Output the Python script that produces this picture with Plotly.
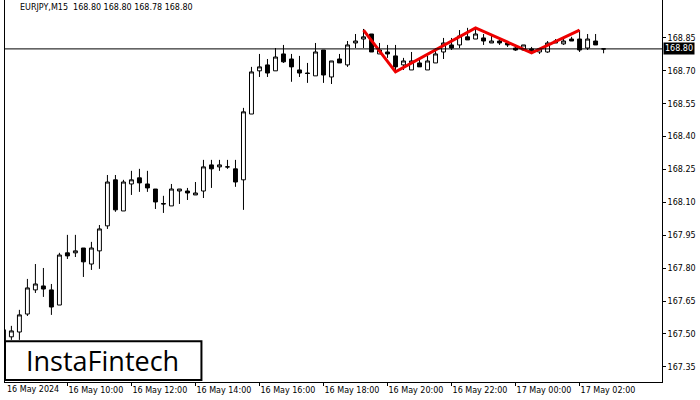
import plotly.graph_objects as go

# EURJPY M15, 16 May 08:00 onwards (one entry per 15-minute bar)
opens = [167.519, 167.487, 167.509, 167.591, 167.701, 167.719, 167.701, 167.632, 167.870, 167.870,
         167.892, 167.819, 167.879, 167.993, 168.203, 168.061, 168.184, 168.212, 168.184, 168.161,
         168.095, 168.084, 168.152, 168.152, 168.134, 168.152, 168.271, 168.262, 168.262, 168.253,
         168.203, 168.503, 168.700, 168.727, 168.700, 168.777, 168.754, 168.704, 168.690, 168.677,
         168.795, 168.672, 168.754, 168.727, 168.827, 168.845, 168.868, 168.777, 168.786, 168.768,
         168.727, 168.704, 168.736, 168.704, 168.736, 168.786, 168.818, 168.818, 168.855, 168.845,
         168.850, 168.827, 168.836, 168.827, 168.804, 168.795, 168.800, 168.786, 168.786, 168.827,
         168.823, 168.845, 168.845, 168.804, 168.836, 168.800]
highs = [167.520, 167.537, 167.610, 167.751, 167.819, 167.801, 167.728, 167.870, 167.952, 167.952,
         167.892, 167.920, 167.997, 168.225, 168.225, 168.203, 168.244, 168.253, 168.244, 168.161,
         168.130, 168.184, 168.161, 168.166, 168.193, 168.294, 168.294, 168.294, 168.294, 168.294,
         168.531, 168.718, 168.777, 168.754, 168.804, 168.818, 168.777, 168.768, 168.736, 168.827,
         168.795, 168.745, 168.777, 168.836, 168.868, 168.891, 168.868, 168.827, 168.818, 168.818,
         168.759, 168.786, 168.754, 168.768, 168.804, 168.850, 168.850, 168.886, 168.896, 168.891,
         168.868, 168.859, 168.850, 168.836, 168.818, 168.818, 168.809, 168.804, 168.836, 168.845,
         168.855, 168.855, 168.886, 168.868, 168.868, 168.800]
lows = [167.450, 167.473, 167.473, 167.582, 167.687, 167.669, 167.587, 167.632, 167.842, 167.851,
        167.760, 167.792, 167.797, 167.979, 168.057, 168.061, 168.134, 168.148, 168.148, 168.070,
        168.052, 168.084, 168.093, 168.111, 168.134, 168.120, 168.166, 168.244, 168.253, 168.171,
        168.066, 168.503, 168.672, 168.672, 168.700, 168.736, 168.650, 168.672, 168.645, 168.677,
        168.645, 168.640, 168.736, 168.718, 168.804, 168.804, 168.786, 168.777, 168.759, 168.695,
        168.704, 168.704, 168.718, 168.704, 168.736, 168.754, 168.795, 168.804, 168.841, 168.845,
        168.818, 168.827, 168.818, 168.809, 168.791, 168.791, 168.777, 168.777, 168.782, 168.827,
        168.818, 168.836, 168.786, 168.795, 168.818, 168.780]
closes = [167.450, 167.514, 167.587, 167.710, 167.728, 167.705, 167.623, 167.860, 167.856, 167.879,
          167.829, 167.892, 167.979, 168.193, 168.066, 168.193, 168.203, 168.189, 168.166, 168.102,
          168.093, 168.161, 168.161, 168.143, 168.143, 168.262, 168.253, 168.271, 168.262, 168.193,
          168.513, 168.695, 168.718, 168.690, 168.763, 168.741, 168.718, 168.690, 168.688, 168.786,
          168.681, 168.745, 168.736, 168.818, 168.836, 168.855, 168.786, 168.795, 168.777, 168.718,
          168.745, 168.745, 168.718, 168.745, 168.777, 168.827, 168.804, 168.859, 168.841, 168.868,
          168.836, 168.836, 168.827, 168.818, 168.795, 168.818, 168.791, 168.800, 168.827, 168.836,
          168.836, 168.836, 168.795, 168.845, 168.818, 168.800]

x_labels = ["16 May 2024", "16 May 10:00", "16 May 12:00", "16 May 14:00", "16 May 16:00",
            "16 May 18:00", "16 May 20:00", "16 May 22:00", "17 May 00:00", "17 May 02:00"]
y_ticks = [167.35, 167.50, 167.65, 167.80, 167.95, 168.10, 168.25, 168.40, 168.55, 168.70, 168.85]

# pattern outline (bar index, price)
pattern_bars = [45, 49, 59, 66, 72]
pattern_prices = [168.886, 168.695, 168.896, 168.782, 168.886]
last_price = 168.80

bars = list(range(len(opens)))

fig = go.Figure()
fig.add_trace(go.Candlestick(
    x=bars, open=opens, high=highs, low=lows, close=closes,
    increasing=dict(line=dict(color="black", width=1), fillcolor="white"),
    decreasing=dict(line=dict(color="black", width=1), fillcolor="black"),
    whiskerwidth=0, showlegend=False, hoverinfo="skip"))
fig.add_trace(go.Scatter(x=pattern_bars, y=pattern_prices, mode="lines",
                         line=dict(color="#ee0000", width=3), showlegend=False))

fig.add_hline(y=last_price, line=dict(color="black", width=1))

fig.add_annotation(x=1, xref="paper", y=last_price, yref="y", xanchor="left",
                   text="168.80", showarrow=False, bgcolor="black",
                   font=dict(color="white", size=8), borderpad=1, xshift=1)
fig.add_annotation(x=0.02, xref="paper", y=1, yref="paper", xanchor="left", yanchor="top",
                   text="EURJPY,M15  168.80 168.80 168.78 168.80", showarrow=False,
                   font=dict(size=8, color="black"), yshift=-1)
# first date label sits at the very left edge
fig.add_annotation(x=0, xref="paper", y=0, yref="paper", xanchor="left", yanchor="top",
                   text=x_labels[0], showarrow=False, font=dict(size=8, color="black"), yshift=-1)

fig.add_shape(type="rect", xref="paper", yref="paper", x0=0, x1=0.299, y0=0.005, y1=0.107,
              line=dict(color="black", width=2), fillcolor="white", layer="above")
fig.add_annotation(x=0.149, xref="paper", y=0.056, yref="paper", text="InstaFintech",
                   xanchor="center", yanchor="middle",
                   showarrow=False, font=dict(size=27, color="black", family="Open Sans"))

fig.update_layout(
    width=700, height=400,
    margin=dict(l=5, r=38, t=0, b=18),
    paper_bgcolor="white", plot_bgcolor="white",
    font=dict(family="DejaVu Sans", size=8, color="black"),
    xaxis=dict(range=[0.2, 82.3], rangeslider=dict(visible=False), showgrid=False,
               tickmode="array", tickvals=list(range(8, 80, 8)), ticktext=x_labels[1:],
               ticks="outside", ticklen=3, tickcolor="black", ticklabelposition="outside right",
               tickangle=0, automargin=False,
               showline=True, linecolor="black", mirror=True, zeroline=False),
    yaxis=dict(range=[167.281, 169.023], side="right", showgrid=False,
               tickmode="array", tickvals=y_ticks, ticktext=[f"{v:.2f}" for v in y_ticks],
               ticks="outside", ticklen=3, tickcolor="black", automargin=False,
               showline=True, linecolor="black", mirror=True, zeroline=False),
)

fig.write_html("out.html", config={"displayModeBar": False},
               post_script="document.body.style.margin='0';")
